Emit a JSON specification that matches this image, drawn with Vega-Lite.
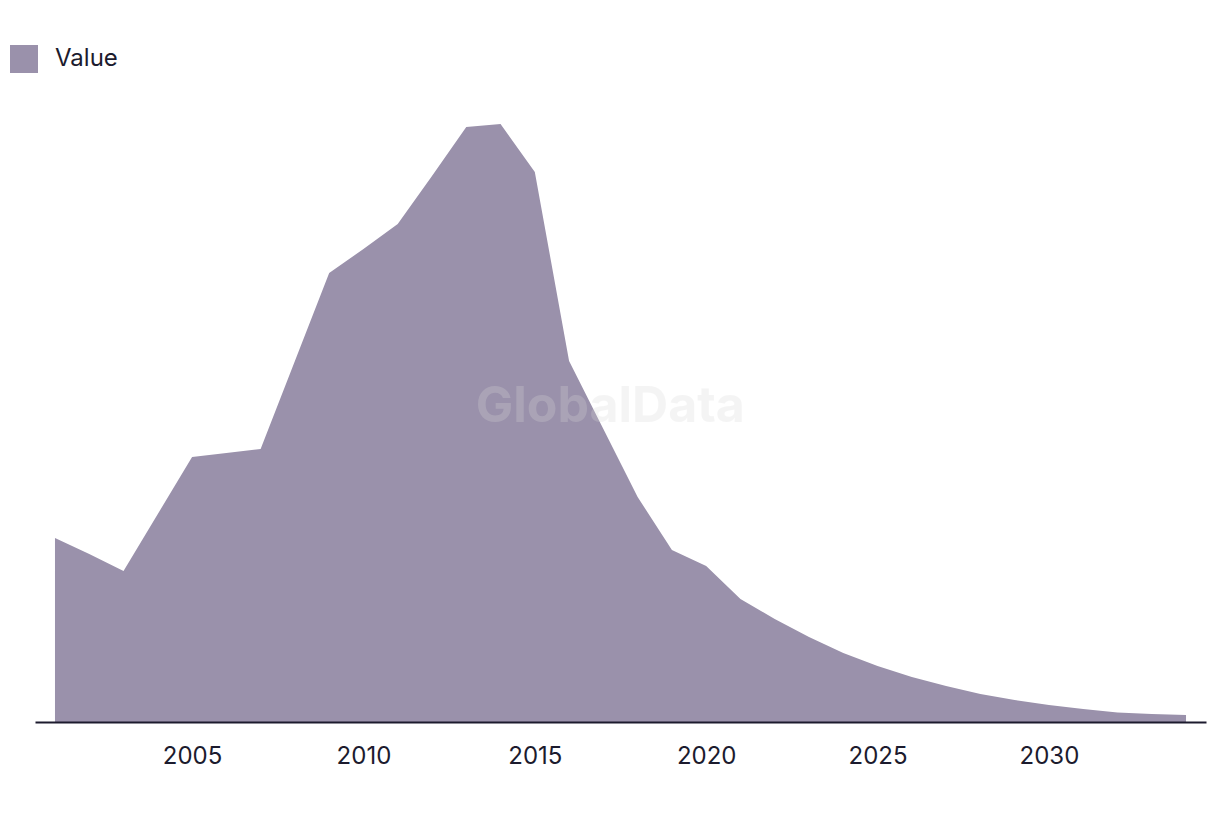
{
  "$schema": "https://vega.github.io/schema/vega-lite/v6.json",
  "width": 1171,
  "height": 620,
  "autosize": "none",
  "padding": {"left": 35, "top": 102, "right": 14, "bottom": 92},
  "background": "white",
  "config": {"view": {"stroke": null}},
  "data": {"values": [
    {"year": 2001, "value": 184, "series": "Value"},
    {"year": 2002, "value": 168, "series": "Value"},
    {"year": 2003, "value": 151, "series": "Value"},
    {"year": 2004, "value": 208, "series": "Value"},
    {"year": 2005, "value": 265, "series": "Value"},
    {"year": 2006, "value": 269, "series": "Value"},
    {"year": 2007, "value": 273, "series": "Value"},
    {"year": 2008, "value": 361, "series": "Value"},
    {"year": 2009, "value": 449, "series": "Value"},
    {"year": 2010, "value": 473, "series": "Value"},
    {"year": 2011, "value": 498, "series": "Value"},
    {"year": 2012, "value": 546, "series": "Value"},
    {"year": 2013, "value": 595, "series": "Value"},
    {"year": 2014, "value": 598, "series": "Value"},
    {"year": 2015, "value": 550, "series": "Value"},
    {"year": 2016, "value": 361, "series": "Value"},
    {"year": 2017, "value": 293, "series": "Value"},
    {"year": 2018, "value": 225, "series": "Value"},
    {"year": 2019, "value": 172, "series": "Value"},
    {"year": 2020, "value": 156, "series": "Value"},
    {"year": 2021, "value": 123, "series": "Value"},
    {"year": 2022, "value": 103, "series": "Value"},
    {"year": 2023, "value": 85, "series": "Value"},
    {"year": 2024, "value": 69, "series": "Value"},
    {"year": 2025, "value": 56, "series": "Value"},
    {"year": 2026, "value": 45, "series": "Value"},
    {"year": 2027, "value": 36, "series": "Value"},
    {"year": 2028, "value": 28, "series": "Value"},
    {"year": 2029, "value": 22, "series": "Value"},
    {"year": 2030, "value": 17, "series": "Value"},
    {"year": 2031, "value": 13, "series": "Value"},
    {"year": 2032, "value": 9.5, "series": "Value"},
    {"year": 2033, "value": 8, "series": "Value"},
    {"year": 2034, "value": 7, "series": "Value"}
  ]},
  "layer": [
    {
      "mark": {"type": "area", "interpolate": "linear"},
      "encoding": {
        "x": {
          "field": "year", "type": "quantitative",
          "scale": {"domain": [2000.417, 2034.583], "nice": false, "zero": false},
          "axis": {
            "values": [2005, 2010, 2015, 2020, 2025, 2030],
            "format": "d", "title": null, "grid": false, "ticks": false,
            "domainColor": "#1c1b2e", "domainWidth": 2,
            "labelFont": "Inter", "labelFontSize": 24, "labelColor": "#1c1b2e",
            "labelPadding": 22, "zindex": 1
          }
        },
        "y": {
          "field": "value", "type": "quantitative",
          "scale": {"domain": [0, 620], "nice": false},
          "axis": null
        },
        "color": {
          "field": "series", "type": "nominal",
          "scale": {"range": ["#9a91ab"]},
          "legend": {
            "title": null, "orient": "none", "legendX": -25, "legendY": -57,
            "symbolType": "square", "symbolSize": 784, "symbolStrokeWidth": 0,
            "symbolOpacity": 1,
            "labelFont": "Inter", "labelFontSize": 24, "labelColor": "#1c1b2e",
            "labelOffset": 17, "padding": 0
          }
        }
      }
    },
    {
      "data": {"values": [{"label": "GlobalData"}]},
      "mark": {"type": "text", "font": "Inter", "fontSize": 50, "fontWeight": "bold", "color": "#d8d8d8", "opacity": 0.26, "align": "center", "baseline": "middle"},
      "encoding": {
        "x": {"datum": 2017.2, "type": "quantitative"},
        "y": {"datum": 315, "type": "quantitative"},
        "text": {"field": "label"}
      }
    }
  ]
}
